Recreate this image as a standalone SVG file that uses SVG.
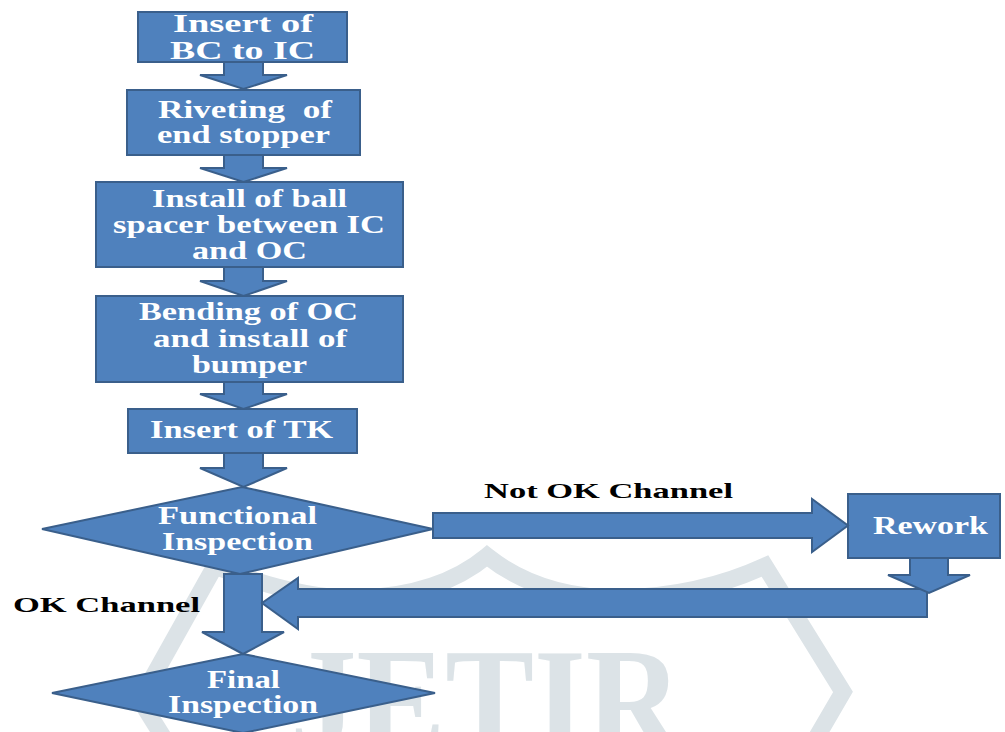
<svg xmlns="http://www.w3.org/2000/svg" width="1005" height="732" viewBox="0 0 1005 732">
<style>
.shape{fill:#4f81bd;stroke:#3a5f8b;stroke-width:2;stroke-linejoin:miter}
.t{font-family:"Liberation Serif","Times New Roman",serif;font-weight:bold;font-size:25px;fill:#ffffff}
.lbl{font-family:"Liberation Serif","Times New Roman",serif;font-weight:bold;font-size:21px;fill:#000000}
.wm{fill:none;stroke:#dce3e7;stroke-width:17}
.wmt{font-family:"Liberation Serif","Times New Roman",serif;font-weight:bold;font-size:150px;fill:#dce3e7}
</style>
<rect width="1005" height="732" fill="#ffffff"/>
<g id="watermark">
<path class="wm" d="M215,566 L140,700 L165,740"/>
<path class="wm" d="M215,566 Q300,600 360,598 Q440,595 487,556 Q540,598 620,598 Q700,596 765,566 L843,692 L815,740"/>
<text class="wmt" x="290" y="752" textLength="392" lengthAdjust="spacingAndGlyphs">JETIR</text>
</g>
<g id="n1"><rect class="shape" x="138" y="12" width="209" height="50"/>
<text class="t" x="173" y="32" textLength="140" lengthAdjust="spacingAndGlyphs">Insert of</text>
<text class="t" x="170" y="59" textLength="145" lengthAdjust="spacingAndGlyphs">BC to IC</text></g>
<g id="n2"><rect class="shape" x="127" y="90" width="233" height="65"/>
<text class="t" x="158" y="118" textLength="174" lengthAdjust="spacingAndGlyphs" style="white-space:pre">Riveting  of</text>
<text class="t" x="157" y="143" textLength="173" lengthAdjust="spacingAndGlyphs">end stopper</text></g>
<g id="n3"><rect class="shape" x="96" y="182" width="307" height="85"/>
<text class="t" x="152" y="207" textLength="195" lengthAdjust="spacingAndGlyphs">Install of ball</text>
<text class="t" x="113" y="233" textLength="272" lengthAdjust="spacingAndGlyphs">spacer between IC</text>
<text class="t" x="192" y="259" textLength="115" lengthAdjust="spacingAndGlyphs">and OC</text></g>
<g id="n4"><rect class="shape" x="96" y="296" width="307" height="86"/>
<text class="t" x="139" y="320" textLength="219" lengthAdjust="spacingAndGlyphs">Bending of OC</text>
<text class="t" x="153" y="347" textLength="194" lengthAdjust="spacingAndGlyphs">and install of</text>
<text class="t" x="192" y="373" textLength="115" lengthAdjust="spacingAndGlyphs">bumper</text></g>
<g id="n5"><rect class="shape" x="128" y="409" width="229" height="44"/>
<text class="t" x="150" y="438" textLength="183" lengthAdjust="spacingAndGlyphs">Insert of TK</text></g>
<g id="n6"><polygon class="shape" points="242,487 433,529 240,574 42,529"/>
<text class="t" x="158" y="524" textLength="159" lengthAdjust="spacingAndGlyphs">Functional</text>
<text class="t" x="162" y="550" textLength="151" lengthAdjust="spacingAndGlyphs">Inspection</text></g>
<g id="n7"><polygon class="shape" points="243,654 435,693 243,733 52,693"/>
<text class="t" x="207" y="688" textLength="73" lengthAdjust="spacingAndGlyphs">Final</text>
<text class="t" x="168" y="713" textLength="150" lengthAdjust="spacingAndGlyphs">Inspection</text></g>
<g id="n8"><rect class="shape" x="848" y="494" width="152" height="64"/>
<text class="t" x="873" y="534" textLength="115" lengthAdjust="spacingAndGlyphs">Rework</text></g>
<g id="connectors">
<polygon class="shape" points="224,62 263,62 263,75 287,75 243.5,89 200,75 224,75"/>
<polygon class="shape" points="224,155 263,155 263,168 287,168 243.5,182 200,168 224,168"/>
<polygon class="shape" points="224,267 263,267 263,281 287,281 243.5,296 200,281 224,281"/>
<polygon class="shape" points="224,382 263,382 263,394 287,394 243.5,409 200,394 224,394"/>
<polygon class="shape" points="224,453 263,453 263,468 287,468 243.5,487 200,468 224,468"/>
<polygon class="shape" points="224,574 262,574 262,632 284,632 243,654 202,632 224,632"/>
<polygon class="shape" points="433,513 812,513 812,499 848,525.5 812,552 812,538 433,538"/>
<polygon class="shape" points="927,589 927,617 298,617 298,629 262,603 298,578 298,589"/>
<polygon class="shape" points="910,558 948,558 948,575 970,575 929,593 888,575 910,575"/>
<text class="lbl" x="484" y="498" textLength="249" lengthAdjust="spacingAndGlyphs">Not OK Channel</text>
<text class="lbl" x="13" y="612" textLength="187" lengthAdjust="spacingAndGlyphs">OK Channel</text>
</g>
</svg>
